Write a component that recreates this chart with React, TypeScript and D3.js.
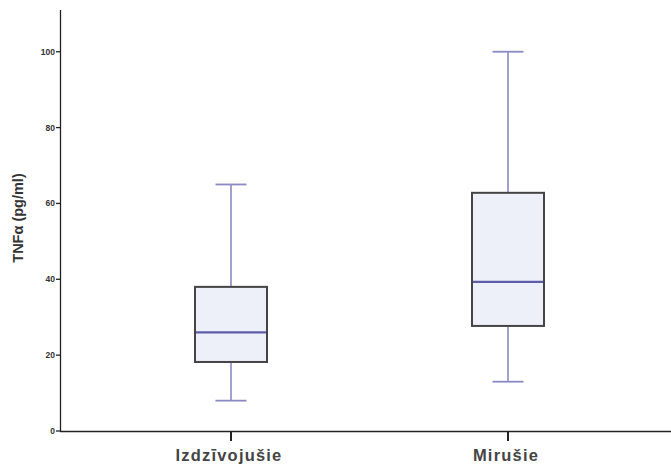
import React from "react";
import * as d3 from "d3";

// Group names and five-number summaries (pg/ml)
const groups = ["Izdzīvojušie", "Mirušie"];
const mins = [8, 13];
const q1s = [18.2, 27.7];
const medians = [26, 39.3];
const q3s = [38, 62.8];
const maxs = [65, 100];
const yTicks = [0, 20, 40, 60, 80, 100];

const W = 671;
const H = 467;

export default function App() {
  const y = d3.scaleLinear().domain([0, 111]).range([431, 10]);
  const x = d3.scalePoint<string>().domain(groups).range([231, 508]);
  const boxW = 72;
  const capW = 31;
  const whisker = "#8a8ac4";
  const medianC = "#5c5ca8";

  return (
    <svg width={W} height={H} style={{ position: "absolute", left: 0, top: 0, background: "#fff" }}
      fontFamily="'Liberation Sans', Arial, sans-serif">
      {/* y axis */}
      <line x1={60.5} x2={60.5} y1={y.range()[1]} y2={y(0)} stroke="#222" strokeWidth={1.3} />
      {yTicks.map((t) => (
        <g key={t}>
          <line x1={56} x2={60.5} y1={y(t)} y2={y(t)} stroke="#222" strokeWidth={1.3} />
          <text x={55} y={y(t) + 3} textAnchor="end" fontSize={8.5} fontWeight="bold" fill="#333">{t}</text>
        </g>
      ))}
      <text transform={`translate(23,${218}) rotate(-90)`} textAnchor="middle" fontSize={14.5}
        fontWeight="bold" fill="#333">TNFα (pg/ml)</text>

      {/* x axis */}
      <line x1={60} x2={W} y1={y(0) + 0.5} y2={y(0) + 0.5} stroke="#222" strokeWidth={1.3} />
      {groups.map((g) => (
        <g key={g}>
          <line x1={x(g)} x2={x(g)} y1={y(0)} y2={y(0) + 10} stroke="#222" strokeWidth={2} />
          <text x={(x(g) as number) - 2} y={461} textAnchor="middle" fontSize={16.5} fontWeight="bold"
            letterSpacing={1.2} fill="#444">{g}</text>
        </g>
      ))}

      {/* boxes */}
      {groups.map((g, i) => {
        const cx = x(g) as number;
        return (
          <g key={g}>
            <line x1={cx} x2={cx} y1={y(maxs[i])} y2={y(q3s[i])} stroke={whisker} strokeWidth={1.6} />
            <line x1={cx} x2={cx} y1={y(q1s[i])} y2={y(mins[i])} stroke={whisker} strokeWidth={1.6} />
            <line x1={cx - capW / 2} x2={cx + capW / 2} y1={y(maxs[i])} y2={y(maxs[i])} stroke={whisker} strokeWidth={1.8} />
            <line x1={cx - capW / 2} x2={cx + capW / 2} y1={y(mins[i])} y2={y(mins[i])} stroke={whisker} strokeWidth={1.8} />
            <rect x={cx - boxW / 2} y={y(q3s[i])} width={boxW} height={y(q1s[i]) - y(q3s[i])}
              fill="#eef0f9" stroke="#444" strokeWidth={2} />
            <line x1={cx - boxW / 2 + 1} x2={cx + boxW / 2 - 1} y1={y(medians[i])} y2={y(medians[i])}
              stroke={medianC} strokeWidth={2.2} />
          </g>
        );
      })}
    </svg>
  );
}
